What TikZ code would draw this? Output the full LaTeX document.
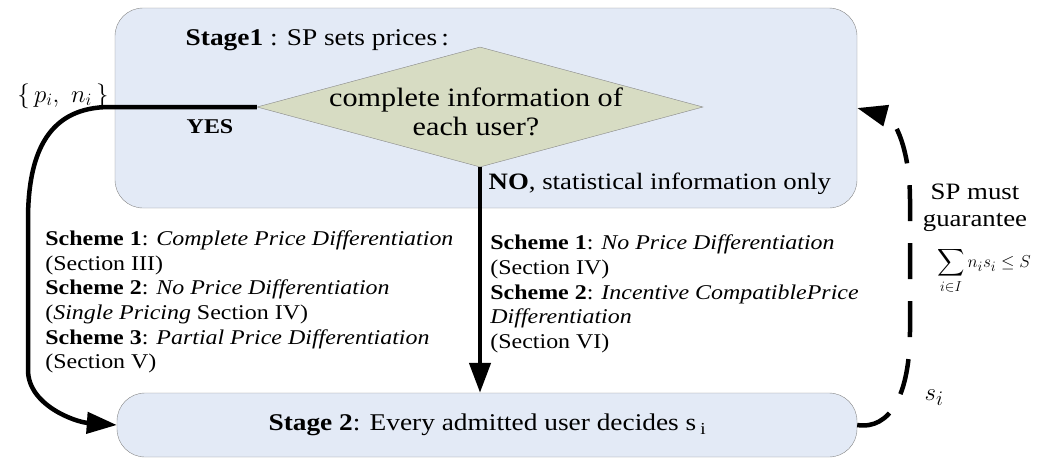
\documentclass[tikz,border=0pt]{standalone}
\usepackage{amsmath, amssymb}
\usepackage{fontspec}
\setmainfont[FakeStretch=1.14]{Liberation Serif}
\usetikzlibrary{shapes.geometric, arrows.meta, positioning}

\definecolor{stagefill}{RGB}{227,234,246}
\definecolor{decfill}{RGB}{215,220,195}
\definecolor{stageline}{RGB}{135,135,135}

\begin{document}
\begin{tikzpicture}[x=1pt, y=-1pt, thick]
        % Define block styles
        \tikzstyle{stagenode} = [rectangle, draw=stageline, fill=stagefill, thin, rounded corners=28pt]
        \tikzstyle{decision} = [diamond, draw=stageline, fill=decfill, thin, inner sep=0pt, minimum width=446pt, minimum height=120pt]
        \tikzstyle{line} = [draw, line width=4.5pt, -{Triangle[length=30pt, width=21pt]}]
        \tikzstyle{feedback} = [line, dash pattern=on 36pt off 22pt]
        \tikzstyle{scheme} = [align=left, font=\fontsize{21}{24.6}\selectfont, inner sep=0pt]

        \useasboundingbox (0,0) rectangle (1063,459);

        % Define nodes
        \node [stagenode, minimum width=742pt, minimum height=200pt] (S1) at (486,108) {};
        \node [anchor=west, font=\fontsize{24}{28}\selectfont] (T1) at (182,40) {\textbf{Stage1} : SP sets prices\,:};
        \node [decision] (D) at (480,107) {};
        \node [align=center, font=\fontsize{26.5}{29}\selectfont] (Q) at (476,112) {complete information of\\each user?};
        \node [stagenode, minimum width=740pt, minimum height=64pt, font=\fontsize{24}{28}\selectfont] (S2) at (487,425) {\textbf{Stage 2}: Every admitted user decides s\,$_{\mathrm{i}}$};

        \node [font=\fontsize{27}{30}\selectfont] (pn) at (63,96) {$\{\,p_i,\ n_i\,\}$};
        \node [font=\fontsize{21}{26}\selectfont\bfseries] (yes) at (210,127) {YES};
        \node [anchor=west, font=\fontsize{23.5}{26}\selectfont] (no) at (485,184) {\textbf{NO}, statistical information only};

        \node [scheme, anchor=west] (L) at (45,302) {\textbf{Scheme 1}: \textit{Complete Price Differentiation}\\
            (Section III)\\
            \textbf{Scheme 2}: \textit{No Price Differentiation}\\
            (\textit{Single Pricing} Section IV)\\
            \textbf{Scheme 3}: \textit{Partial Price Differentiation}\\
            (Section V)};
        \node [scheme, anchor=west] (R) at (490,294) {\textbf{Scheme 1}: \textit{No Price Differentiation}\\
            (Section IV)\\
            \textbf{Scheme 2}: \textit{Incentive CompatiblePrice}\\
            \textit{Differentiation}\\
            (Section VI)};

        \node [align=center, inner sep=0pt, font=\fontsize{23.5}{27}\selectfont] (sp) at (975,208) {SP must\\guarantee};
        \node [inner sep=0pt, font=\fontsize{19}{22}\selectfont] (sum) at (984,271) {$\displaystyle\sum_{i\in I} n_i s_i \le S$};
        \node [font=\fontsize{30}{32}\selectfont] (si) at (934,398) {$s_i$};

        % Connect nodes with paths
        \draw[line] (D.west) -- (110,107) .. controls (50,107) and (28,150) .. (28,220) -- (28,370) .. controls (28,405) and (75,422) .. (S2.west);
        \draw[line] (D.south) -- (S2.north -| D.south);
        \draw[feedback] (S2.east) .. controls (890,430) and (910,395) .. (910,330) -- (910,200) .. controls (910,150) and (895,118) .. (S1.east);

    \end{tikzpicture}
\end{document}
